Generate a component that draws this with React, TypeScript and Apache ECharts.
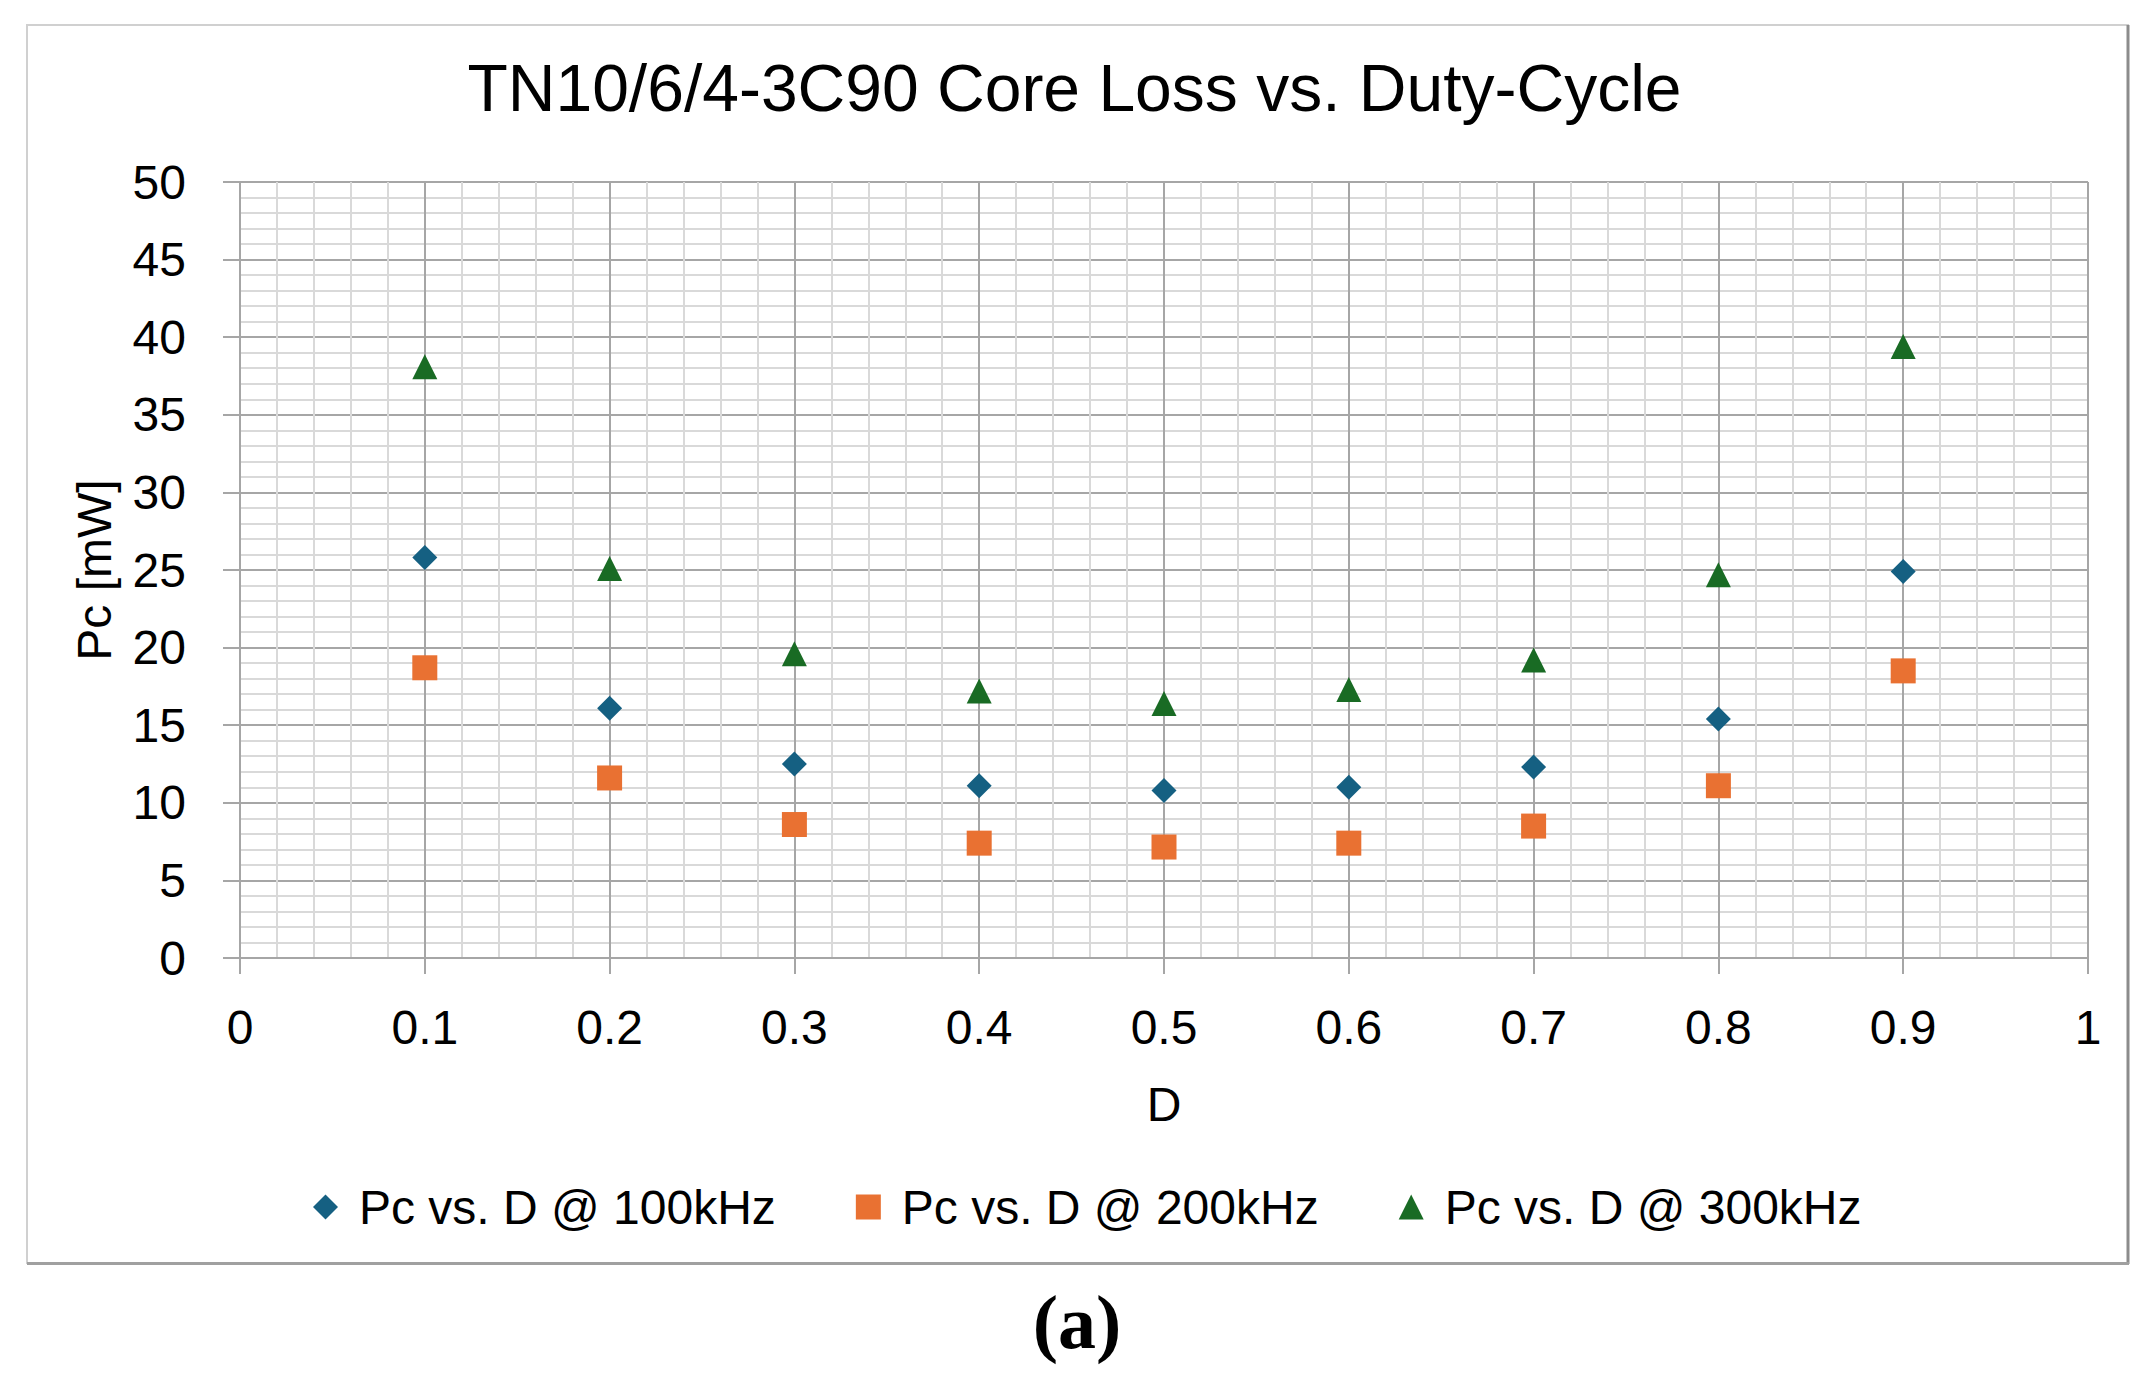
import React, { useEffect, useRef } from 'react';
import * as echarts from 'echarts';

const dutyCycle = [0.1, 0.2, 0.3, 0.4, 0.5, 0.6, 0.7, 0.8, 0.9];
const pc100k = [25.8, 16.1, 12.5, 11.1, 10.8, 11.0, 12.3, 15.4, 24.9];
const pc200k = [18.7, 11.6, 8.6, 7.4, 7.15, 7.4, 8.5, 11.1, 18.5];
const pc300k = [38.1, 25.1, 19.6, 17.2, 16.4, 17.3, 19.2, 24.7, 39.4];

const seriesNames = ['Pc vs. D @ 100kHz', 'Pc vs. D @ 200kHz', 'Pc vs. D @ 300kHz'];
const seriesColors = ['#156082', '#E97132', '#196B24'];
const seriesSymbols = ['diamond', 'rect', 'triangle'];

const FONT = 'Liberation Sans';

const toPairs = (ys: number[]) => dutyCycle.map((d, i) => [d, ys[i]]);

const App: React.FC = () => {
    const chartRef = useRef<HTMLDivElement>(null);

    useEffect(() => {
        const chartDom = chartRef.current!;
        const myChart = echarts.init(chartDom, null, { renderer: 'svg' });

        const values = [pc100k, pc200k, pc300k];

        const option: echarts.EChartsOption = {
            animation: false,
            backgroundColor: '#fff',
            title: {
                text: 'TN10/6/4-3C90 Core Loss vs. Duty-Cycle',
                left: 'center',
                top: 50,
                textStyle: { fontFamily: FONT, fontSize: 66, fontWeight: 'normal', color: '#000' },
            },
            grid: { left: 240, right: 61, top: 182, bottom: 429 },
            legend: {
                left: 308,
                top: 1178,
                itemWidth: 25,
                itemHeight: 25,
                itemGap: 80,
                data: seriesNames,
                textStyle: { fontFamily: FONT, fontSize: 48, color: '#000', padding: [0, 0, 0, 16] },
            },
            xAxis: {
                type: 'value',
                min: 0,
                max: 1,
                interval: 0.1,
                name: 'D',
                nameLocation: 'middle',
                nameGap: 122,
                nameTextStyle: { fontFamily: FONT, fontSize: 48, color: '#000' },
                axisLine: { show: true, lineStyle: { color: '#a6a6a6', width: 2 } },
                axisTick: { show: true, length: 16, lineStyle: { color: '#a6a6a6', width: 2 } },
                axisLabel: { fontFamily: FONT, fontSize: 48, color: '#000', margin: 45 },
                splitLine: { show: true, lineStyle: { color: '#a6a6a6', width: 2 } },
                minorTick: { show: false, splitNumber: 5 },
                minorSplitLine: { show: true, lineStyle: { color: '#d9d9d9', width: 2 } },
            },
            yAxis: {
                type: 'value',
                min: 0,
                max: 50,
                interval: 5,
                name: 'Pc [mW]',
                nameLocation: 'middle',
                nameGap: 122,
                nameTextStyle: { fontFamily: FONT, fontSize: 48, color: '#000' },
                axisLine: { show: true, lineStyle: { color: '#a6a6a6', width: 2 } },
                axisTick: { show: true, length: 17, lineStyle: { color: '#a6a6a6', width: 2 } },
                axisLabel: { fontFamily: FONT, fontSize: 48, color: '#000', margin: 54 },
                splitLine: { show: true, lineStyle: { color: '#a6a6a6', width: 2 } },
                minorTick: { show: false, splitNumber: 5 },
                minorSplitLine: { show: true, lineStyle: { color: '#d9d9d9', width: 2 } },
            },
            series: seriesNames.map((name, i) => ({
                name,
                type: 'scatter',
                symbol: seriesSymbols[i],
                symbolSize: 25,
                itemStyle: { color: seriesColors[i], opacity: 1 },
                data: toPairs(values[i]),
                z: 3,
            })),
            graphic: [
                {
                    type: 'rect',
                    shape: { x: 27, y: 25, width: 2101, height: 1238 },
                    style: { fill: 'none', stroke: '#d0d0d0', lineWidth: 2 },
                    silent: true,
                },
                {
                    type: 'line',
                    shape: { x1: 2128, y1: 25, x2: 2128, y2: 1264 },
                    style: { stroke: '#8c8c8c', lineWidth: 3 },
                    silent: true,
                },
                {
                    type: 'line',
                    shape: { x1: 27, y1: 1263.5, x2: 2129, y2: 1263.5 },
                    style: { stroke: '#a0a0a0', lineWidth: 3 },
                    silent: true,
                },
                {
                    type: 'text',
                    x: 1077,
                    y: 1322,
                    style: {
                        text: '(a)',
                        fontFamily: 'Liberation Serif',
                        fontWeight: 'bold',
                        fontSize: 76,
                        fill: '#000',
                        align: 'center',
                        verticalAlign: 'middle',
                    },
                    silent: true,
                },
            ],
        };

        myChart.setOption(option);

        const resizeObserver = new ResizeObserver(() => {
            myChart.resize();
        });
        resizeObserver.observe(chartDom);

        return () => {
            resizeObserver.disconnect();
            myChart.dispose();
        };
    }, []);

    return (
        <div
            ref={chartRef}
            style={{ position: 'fixed', left: 0, top: 0, width: '100vw', height: '100vh' }}
        />
    );
};

export default App;
